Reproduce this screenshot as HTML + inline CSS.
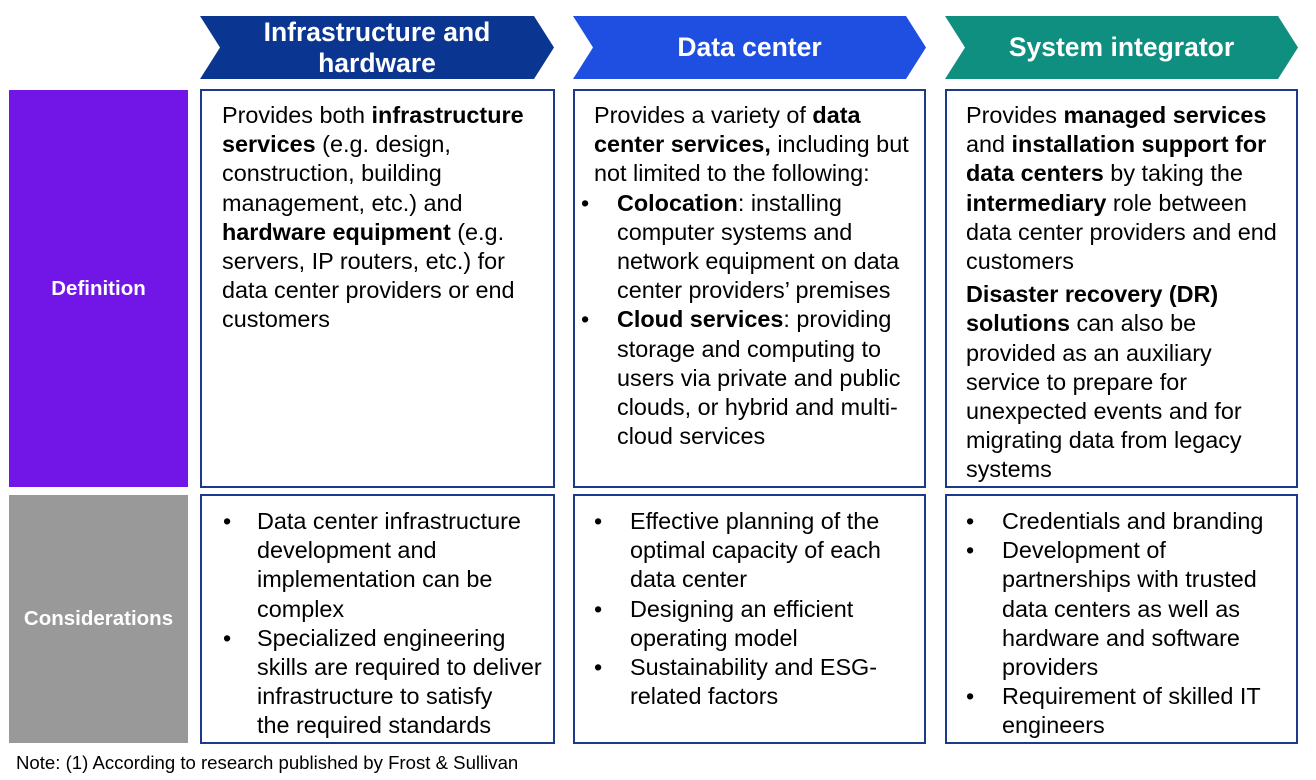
<!DOCTYPE html>
<html><head><meta charset="utf-8"><style>
*{margin:0;padding:0;box-sizing:border-box}
body{width:1316px;height:780px;background:#fff;position:relative;font-family:"Liberation Sans",Arial,sans-serif;color:#000;overflow:hidden}
.lab{position:absolute;left:9px;width:179px;color:#fff;font-weight:bold;font-size:20.5px;display:flex;align-items:center;justify-content:center}
.box{position:absolute;border:2px solid #1b3a8c;font-size:23.4px;line-height:29.2px;white-space:nowrap}
.li{position:relative;padding-left:var(--ind)}
.li:before{content:"•";position:absolute;left:var(--bl)}
.hd{position:absolute;top:16px;height:63px}
.hd span{position:absolute;left:0;right:0;top:0;bottom:0;display:flex;align-items:center;justify-content:center;color:#fff;font-weight:bold;font-size:26.5px;line-height:31px;text-align:center}
</style></head><body>
<div class="hd" style="left:200px;width:354px"><svg width="354" height="63"><polygon points="0,0 334,0 354,31.5 334,63 0,63 20,31.5" fill="#0a3590"/></svg><span>Infrastructure and<br>hardware</span></div>
<div class="hd" style="left:573px;width:353px"><svg width="353" height="63"><polygon points="0,0 333,0 353,31.5 333,63 0,63 20,31.5" fill="#1f4fe0"/></svg><span>Data center</span></div>
<div class="hd" style="left:945px;width:353px"><svg width="353" height="63"><polygon points="0,0 333,0 353,31.5 333,63 0,63 20,31.5" fill="#0e8f7f"/></svg><span>System integrator</span></div>

<div class="lab" style="top:90px;height:397px;background:#7216e8">Definition</div>
<div class="lab" style="top:495px;height:248px;background:#999">Considerations</div>

<div class="box" style="left:200px;top:89px;width:355px;height:399px;padding:10px 0 0 20px">Provides both <b>infrastructure<br>services</b> (e.g. design,<br>construction, building<br>management, etc.) and<br><b>hardware equipment</b> (e.g.<br>servers, IP routers, etc.) for<br>data center providers or end<br>customers</div>
<div class="box" style="left:573px;top:89px;width:353px;height:399px;padding:10px 0 0 0;--ind:42px;--bl:6px"><div style="padding-left:19px">Provides a variety of <b>data<br>center services,</b> including but<br>not limited to the following:</div>
<div class="li"><b>Colocation</b>: installing<br>computer systems and<br>network equipment on data<br>center providers’ premises</div>
<div class="li"><b>Cloud services</b>: providing<br>storage and computing to<br>users via private and public<br>clouds, or hybrid and multi-<br>cloud services</div></div>
<div class="box" style="left:945px;top:89px;width:353px;height:399px;padding:10px 0 0 19px">Provides <b>managed services</b><br>and <b>installation support for<br>data centers</b> by taking the<br><b>intermediary</b> role between<br>data center providers and end<br>customers<div style="margin-top:4px"><b>Disaster recovery (DR)<br>solutions</b> can also be<br>provided as an auxiliary<br>service to prepare for<br>unexpected events and for<br>migrating data from legacy<br>systems</div></div>

<div class="box" style="left:200px;top:494px;width:355px;height:250px;padding:11px 0 0 0;--ind:55px;--bl:21px"><div class="li">Data center infrastructure<br>development and<br>implementation can be<br>complex</div><div class="li">Specialized engineering<br>skills are required to deliver<br>infrastructure to satisfy<br>the required standards</div></div>
<div class="box" style="left:573px;top:494px;width:353px;height:250px;padding:11px 0 0 0;--ind:55px;--bl:19px"><div class="li">Effective planning of the<br>optimal capacity of each<br>data center</div><div class="li">Designing an efficient<br>operating model</div><div class="li">Sustainability and ESG-<br>related factors</div></div>
<div class="box" style="left:945px;top:494px;width:353px;height:250px;padding:11px 0 0 0;--ind:55px;--bl:19px"><div class="li">Credentials and branding</div><div class="li">Development of<br>partnerships with trusted<br>data centers as well as<br>hardware and software<br>providers</div><div class="li">Requirement of skilled IT<br>engineers</div></div>

<div style="position:absolute;left:16px;top:752px;font-size:18.6px">Note: (1) According to research published by Frost &amp; Sullivan</div>
</body></html>
